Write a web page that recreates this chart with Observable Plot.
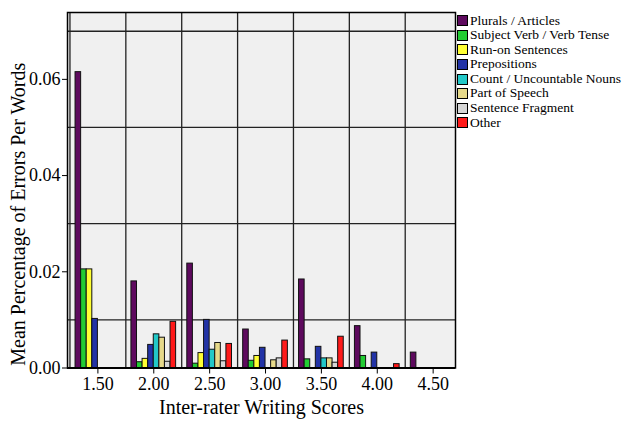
<!DOCTYPE html>
<html>
<head>
<meta charset="utf-8">
<script src="https://cdn.jsdelivr.net/npm/d3@7"></script>
<script src="https://cdn.jsdelivr.net/npm/@observablehq/plot@0.6"></script>
<style>
  html, body { margin: 0; padding: 0; background: #fff; }
  #wrap { position: relative; width: 623px; height: 421px; font-family: "Liberation Serif", "DejaVu Serif", serif; }
  #legend { position: absolute; left: 457px; top: 13.5px; font-size: 13.5px; line-height: 14.6px; color: #000; font-family: "Liberation Serif", "DejaVu Serif", serif; }
  .row { display: flex; align-items: center; height: 14.6px; white-space: nowrap; }
  .sw { width: 9px; height: 9px; border: 1px solid #000; margin-right: 2px; flex: none; }
</style>
</head>
<body>
<div id="wrap"><div id="legend"></div></div>
<script>
// Categories (x) and tick labels
const scores = [1.5, 2.0, 2.5, 3.0, 3.5, 4.0, 4.5];
const yTicks = [0, 0.02, 0.04, 0.06];
const yGrid = [0.01, 0.03, 0.05, 0.07];
const xGrid = [1.25, 1.75, 2.25, 2.75, 3.25, 3.75, 4.25];
const xTitle = "Inter-rater Writing Scores";
const yTitle = "Mean Percentage of Errors Per Words";

// Series names and colors
const seriesNames = ["Plurals / Articles", "Subject Verb / Verb Tense", "Run-on Sentences", "Prepositions",
  "Count / Uncountable Nouns", "Part of Speech", "Sentence Fragment", "Other"];
const seriesColors = ["#5e0a5e", "#22cc33", "#ffff33", "#2233a6", "#22c8c8", "#e6d98a", "#d6d6d6", "#ff1a1a"];

// Series values (mean error rate per score)
const plurals      = [0.0615, 0.0180, 0.0217, 0.0080, 0.0184, 0.0087, 0.0032];
const subjectVerb  = [0.0205, 0.0012, 0.0009, 0.0015, 0.0018, 0.0025, 0];
const runOn        = [0.0205, 0.0019, 0.0031, 0.0025, 0,      0,      0];
const prepositions = [0.0102, 0.0048, 0.0100, 0.0042, 0.0044, 0.0032, 0];
const countNouns   = [0,      0.0070, 0.0038, 0,      0.0020, 0,      0];
const partOfSpeech = [0,      0.0063, 0.0052, 0.0016, 0.0020, 0,      0];
const fragment     = [0,      0.0013, 0.0014, 0.0020, 0.0011, 0,      0];
const other        = [0,      0.0096, 0.0050, 0.0057, 0.0065, 0.0008, 0];

const seriesValues = [plurals, subjectVerb, runOn, prepositions, countNouns, partOfSpeech, fragment, other];

const barW = 0.05; // width of one bar in score units
const rows = [];
seriesValues.forEach((vals, si) => {
  vals.forEach((v, ci) => {
    if (v > 0) {
      const x1 = scores[ci] - (seriesNames.length * barW) / 2 + si * barW;
      rows.push({score: scores[ci], series: seriesNames[si], value: v, x1, x2: x1 + barW});
    }
  });
});

const FONT = "'Liberation Serif', 'DejaVu Serif', serif";
const chart = Plot.plot({
  width: 623,
  height: 421,
  marginLeft: 67,
  marginRight: 168,
  marginTop: 12,
  marginBottom: 53.5,
  style: {fontFamily: FONT, fontSize: "18px", background: "transparent", color: "#000"},
  x: {type: "linear", domain: [1.228, 4.70]},
  y: {domain: [0, 0.0739]},
  color: {domain: seriesNames, range: seriesColors},
  marks: [
    Plot.frame({fill: "#f0f0f0", stroke: null}),
    Plot.ruleY(yGrid, {stroke: "#222", strokeWidth: 1.3}),
    Plot.ruleX(xGrid, {stroke: "#222", strokeWidth: 1.3}),
    Plot.rectY(rows, {x1: "x1", x2: "x2", y1: 0, y2: "value", fill: "series", stroke: "#111", strokeWidth: 1}),
    Plot.frame({stroke: "#000", strokeWidth: 1.5}),
    Plot.ruleY([0], {stroke: "#000", strokeWidth: 2}),
    Plot.axisX({ticks: scores, tickFormat: d3.format(".2f"), tickSize: 6, tickPadding: 3, fontSize: 18, fontFamily: FONT, label: null}),
    Plot.axisY({ticks: yTicks, tickFormat: d3.format(".2f"), tickSize: 5, tickPadding: 2, fontSize: 18, fontFamily: FONT, label: null}),
    Plot.text([xTitle], {frameAnchor: "bottom", dy: 40, fontSize: 20, textAnchor: "middle", lineAnchor: "middle", fill: "#000"}),
    Plot.text([yTitle], {frameAnchor: "left", rotate: -90, dx: -49, dy: 24, fontSize: 20, textAnchor: "middle", lineAnchor: "middle", fill: "#000"})
  ]
});
document.getElementById("wrap").prepend(chart);

const legend = document.getElementById("legend");
seriesNames.forEach((name, i) => {
  const row = document.createElement("div");
  row.className = "row";
  const sw = document.createElement("span");
  sw.className = "sw";
  sw.style.background = seriesColors[i];
  const t = document.createElement("span");
  t.textContent = name;
  row.appendChild(sw);
  row.appendChild(t);
  legend.appendChild(row);
});
</script>
</body>
</html>
